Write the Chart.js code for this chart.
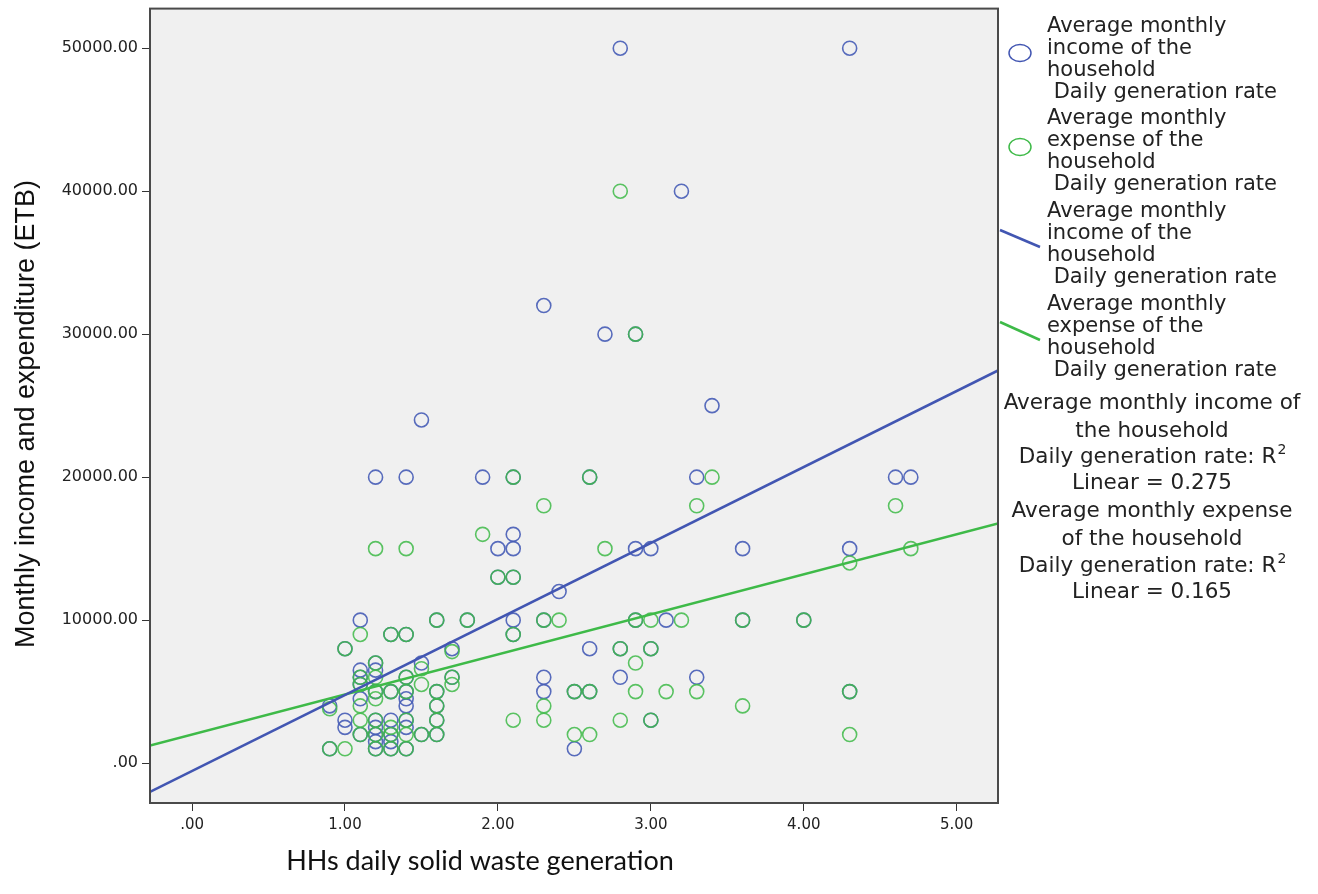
<!DOCTYPE html>
<html>
<head>
<meta charset="utf-8">
<script src="https://cdn.jsdelivr.net/npm/chart.js@4.4.1/dist/chart.umd.min.js"></script>
<style>
  html, body { margin: 0; padding: 0; background: #fff; }
  #wrap { width: 1318px; height: 894px; position: relative; }
</style>
</head>
<body>
<div id="wrap"><canvas id="chart"></canvas></div>
<script>
// HHs daily solid waste generation levels (x)
const wasteSteps = [0.9, 1.0, 1.1, 1.2, 1.3, 1.4, 1.5, 1.6, 1.7, 1.8, 1.9, 2.0, 2.1, 2.3, 2.4,
                    2.5, 2.6, 2.7, 2.8, 2.9, 3.0, 3.1, 3.2, 3.3, 3.4, 3.6, 4.0, 4.3, 4.6, 4.7]

// Average monthly income, households at each waste level
const incomeGroups = [
    [4000, 1000], [8000, 3000, 2500], [10000, 6500, 6000, 5500, 4500, 2000],
    [20000, 7000, 6500, 5000, 3000, 2500, 2000, 1500, 1000], [9000, 5000, 3000, 2000, 1500, 1000],
    [20000, 9000, 6000, 5000, 4500, 4000, 3000, 2500, 1000], [24000, 7000, 2000],
    [10000, 5000, 4000, 3000, 2000], [8000, 6000], [10000], [20000], [15000, 13000],
    [20000, 16000, 15000, 13000, 10000, 9000], [32000, 10000, 6000, 5000], [12000],
    [5000, 1000], [20000, 8000, 5000], [30000], [50000, 8000, 6000], [30000, 15000, 10000],
    [15000, 8000, 3000], [10000], [40000], [20000, 6000], [25000], [15000, 10000], [10000],
    [50000, 15000, 5000], [20000], [20000]
]

// Average monthly expense, households at each waste level
const expenseGroups = [
    [3800, 1000], [8000, 1000], [9000, 6000, 5500, 4000, 3000, 2000],
    [15000, 7000, 6000, 5000, 4500, 3000, 2000, 1000], [9000, 5000, 2500, 2000, 1000],
    [15000, 9000, 6000, 5000, 3000, 2000, 1000], [6600, 5500, 2000],
    [10000, 5000, 4000, 3000, 2000], [7800, 6000, 5500], [10000], [16000], [13000],
    [20000, 13000, 9000, 3000], [18000, 10000, 4000, 3000], [10000],
    [5000, 2000], [20000, 5000, 2000], [15000], [40000, 8000, 3000], [30000, 10000, 7000, 5000],
    [10000, 8000, 3000], [5000], [10000], [18000, 5000], [20000], [10000, 4000], [10000],
    [14000, 5000, 2000], [18000], [15000]
]

// fit lines, read at the left and right edges of the plot
const fitX = [-0.275, 5.27]
const fitIncomeY = [-2020, 27460]
const fitExpenseY = [1220, 16760]

const xTicks = [0, 1, 2, 3, 4, 5]
const yTicks = [0, 10000, 20000, 30000, 40000, 50000]

const blue = 'rgb(66, 86, 178)'
const green = 'rgb(62, 186, 72)'

function toPoints(groups) {
    const pts = []
    wasteSteps.forEach(function (x, i) {
        groups[i].forEach(function (y) { pts.push({ x: x, y: y }) })
    })
    return pts
}

function fitPoints(ys) {
    return fitX.map(function (x, i) { return { x: x, y: ys[i] } })
}

const extras = {
    id: 'extras',
    beforeDatasetsDraw: function (chart) {
        const a = chart.chartArea
        const ctx = chart.ctx
        ctx.save()
        ctx.fillStyle = '#f0f0f0'
        ctx.fillRect(a.left, a.top, a.right - a.left, a.bottom - a.top)
        ctx.restore()
    },
    afterDraw: function (chart) {
        const a = chart.chartArea
        const ctx = chart.ctx
        ctx.save()

        // frame
        ctx.strokeStyle = '#4a4a4a'
        ctx.lineWidth = 2
        ctx.strokeRect(a.left, a.top, a.right - a.left, a.bottom - a.top)

        // axis titles
        ctx.fillStyle = '#111'
        ctx.textAlign = 'center'
        ctx.textBaseline = 'middle'
        ctx.font = '27px "Liberation Sans"'
        ctx.save()
        ctx.translate(27, 414)
        ctx.rotate(-Math.PI / 2)
        ctx.fillText('Monthly income and expenditure (ETB)', 0, 0)
        ctx.restore()

        ctx.textBaseline = 'alphabetic'
        ctx.font = '27px Lato'
        ctx.fillText('HHs daily solid waste generation', 480, 870)

        // legend
        const groups = [
            ['Average monthly', 'income of the', 'household', ' Daily generation rate'],
            ['Average monthly', 'expense of the', 'household', ' Daily generation rate'],
            ['Average monthly', 'income of the', 'household', ' Daily generation rate'],
            ['Average monthly', 'expense of the', 'household', ' Daily generation rate']
        ]
        const starts = [32, 124, 217, 310]
        ctx.font = '21px "DejaVu Sans"'
        ctx.fillStyle = '#222'
        ctx.textAlign = 'left'
        groups.forEach(function (lines, g) {
            lines.forEach(function (t, i) {
                ctx.fillText(t, 1047, starts[g] + i * 22)
            })
        })

        ctx.lineWidth = 1.5
        ctx.strokeStyle = blue
        ctx.beginPath(); ctx.ellipse(1020, 53, 11, 8.5, 0, 0, Math.PI * 2); ctx.stroke()
        ctx.strokeStyle = green
        ctx.beginPath(); ctx.ellipse(1020, 147, 11, 8.5, 0, 0, Math.PI * 2); ctx.stroke()

        ctx.lineWidth = 2.5
        ctx.strokeStyle = blue
        ctx.beginPath(); ctx.moveTo(1000, 230); ctx.lineTo(1040, 247); ctx.stroke()
        ctx.strokeStyle = green
        ctx.beginPath(); ctx.moveTo(1000, 322); ctx.lineTo(1040, 340); ctx.stroke()

        // R squared notes
        const notes = [
            ['Average monthly income of'], ['the household'], ['Daily generation rate: R', '2'], ['Linear = 0.275'],
            ['Average monthly expense'], ['of the household'], ['Daily generation rate: R', '2'], ['Linear = 0.165']
        ]
        const noteY = [409, 437, 463, 489, 517, 545, 572, 598]
        notes.forEach(function (n, i) {
            ctx.font = '21.5px "DejaVu Sans"'
            const w1 = ctx.measureText(n[0]).width
            let w2 = 0
            if (n[1]) {
                ctx.font = '14px "DejaVu Sans"'
                w2 = ctx.measureText(n[1]).width
            }
            const x0 = 1152 - (w1 + w2) / 2
            ctx.font = '21.5px "DejaVu Sans"'
            ctx.fillText(n[0], x0, noteY[i])
            if (n[1]) {
                ctx.font = '14px "DejaVu Sans"'
                ctx.fillText(n[1], x0 + w1 + 1, noteY[i] - 9)
            }
        })

        ctx.restore()
    }
}

const tickLabel = function (v) { return v === 0 ? '.00' : v.toFixed(2) }

new Chart(document.getElementById('chart'), {
    type: 'scatter',
    data: {
        datasets: [
            {
                type: 'line',
                data: fitPoints(fitIncomeY),
                borderColor: blue,
                borderWidth: 2.5,
                pointRadius: 0,
                fill: false,
                order: 0
            },
            {
                type: 'line',
                data: fitPoints(fitExpenseY),
                borderColor: green,
                borderWidth: 2.5,
                pointRadius: 0,
                fill: false,
                order: 0
            },
            {
                data: toPoints(expenseGroups),
                pointStyle: 'circle',
                pointRadius: 7,
                pointBorderWidth: 1.6,
                pointBackgroundColor: 'transparent',
                pointBorderColor: 'rgba(62, 186, 72, 0.85)',
                order: 1
            },
            {
                data: toPoints(incomeGroups),
                pointStyle: 'circle',
                pointRadius: 7,
                pointBorderWidth: 1.6,
                pointBackgroundColor: 'transparent',
                pointBorderColor: 'rgba(70, 92, 182, 0.9)',
                order: 2
            }
        ]
    },
    options: {
        responsive: true,
        maintainAspectRatio: false,
        animation: false,
        layout: { padding: { top: 4, right: 320, left: 0, bottom: 0 } },
        plugins: {
            legend: { display: false },
            tooltip: { enabled: false }
        },
        scales: {
            x: {
                type: 'linear',
                min: fitX[0],
                max: fitX[1],
                afterBuildTicks: function (scale) {
                    scale.ticks = xTicks.map(function (v) { return { value: v } })
                },
                afterFit: function (scale) {
                    scale.height = 91
                    scale.paddingLeft = 0
                    scale.paddingRight = 0
                },
                border: { display: false },
                grid: { drawOnChartArea: false, drawTicks: true, tickLength: 8, color: '#333' },
                ticks: {
                    padding: 5,
                    maxRotation: 0,
                    color: '#222',
                    font: { family: 'DejaVu Sans', size: 15 },
                    callback: tickLabel
                }
            },
            y: {
                type: 'linear',
                min: -2790,
                max: 52770,
                afterBuildTicks: function (scale) {
                    scale.ticks = yTicks.map(function (v) { return { value: v } })
                },
                afterFit: function (scale) {
                    scale.width = 150
                    scale.paddingTop = 0
                    scale.paddingBottom = 0
                },
                border: { display: false },
                grid: { drawOnChartArea: false, drawTicks: true, tickLength: 8, color: '#333' },
                ticks: {
                    padding: 4,
                    color: '#222',
                    font: { family: 'DejaVu Sans', size: 16 },
                    callback: tickLabel
                }
            }
        }
    },
    plugins: [extras]
})
</script>
</body>
</html>
